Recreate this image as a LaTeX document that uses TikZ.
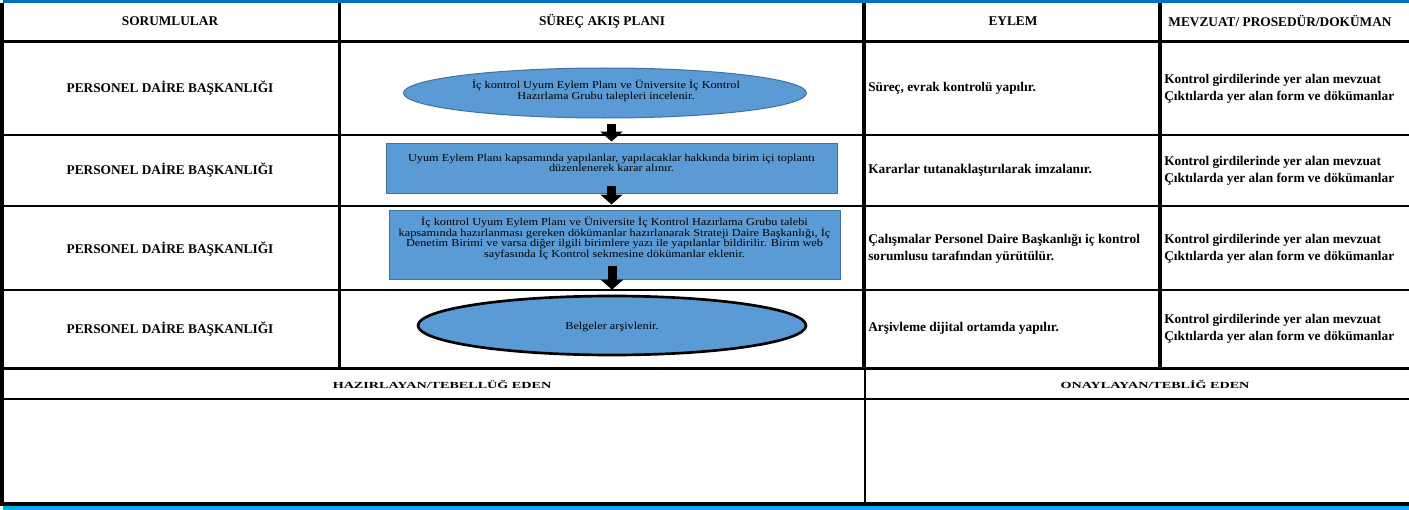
\documentclass[tikz,border=0pt]{standalone}
\usepackage{fontspec}
\usepackage{graphicx}
\setmainfont{Liberation Serif}
\usetikzlibrary{shapes.geometric,arrows.meta}
\definecolor{flowblue}{HTML}{5B9BD5}
\definecolor{flowedge}{HTML}{41719C}
\definecolor{topblue}{HTML}{0070C0}
\definecolor{bandcyan}{HTML}{00B0F0}
\newcommand{\flowfont}{\fontsize{9.2}{7.9}\selectfont\lineskiplimit -20pt\relax}
\newcommand{\sq}[1]{\scalebox{1}[0.86]{#1}}
\begin{document}
\begin{tikzpicture}[x=0.75pt,y=-0.75pt,
  hdr/.style={font=\fontsize{10}{12}\selectfont\bfseries, inner sep=0pt},
  foot/.style={font=\fontsize{10.6}{12}\selectfont\bfseries, inner sep=0pt},
  acttxt/.style={font=\fontsize{10}{12.6}\selectfont\bfseries, inner sep=0pt, anchor=west, align=left},
  flowtxt/.style={font=\flowfont, inner sep=0pt, align=center},
  flowell/.style={ellipse, fill=flowblue, draw=flowedge, line width=0.75pt, inner sep=0pt},
  flowrect/.style={rectangle, fill=flowblue, draw=flowedge, line width=0.75pt, inner sep=0pt},
  blockarrow/.style={draw=black, line width=6.75pt, -{Triangle[width=16.5pt,length=7.5pt]}},
  gridthin/.style={line width=1.1pt},
]
\useasboundingbox (0,0) rectangle (1409,510);
\fill[white] (0,0) rectangle (1409,510);
% frame and grid
\fill[topblue] (3,0) rectangle (1409,2.8);
\fill[black] (0,3) rectangle (3.5,505.5);
\fill[black] (0,40) rectangle (1409,43);
\fill[black] (0,366.5) rectangle (1409,369.5);
\fill[black] (0,501.5) rectangle (1409,505.5);
\fill[bandcyan] (3,505.5) rectangle (1409,510);
\draw[gridthin] (0,135) -- (1409,135);
\draw[gridthin] (0,206) -- (1409,206);
\draw[gridthin] (0,290) -- (1409,290);
\fill[black] (338,3) rectangle (341,368);
\fill[black] (862,3) rectangle (866,368);
\fill[black] (1158,3) rectangle (1162,368);
\draw[line width=1.5pt] (0,399) -- (1409,399);
\draw[gridthin] (865,368) -- (865,502);
% headers
\node[hdr] (h1) at (170,21) {SORUMLULAR};
\node[hdr] (h2) at (602,21) {SÜREÇ AKIŞ PLANI};
\node[hdr] (h3) at (1013,21) {EYLEM};
\node[hdr] (h4) at (1280,21) {MEVZUAT/ PROSEDÜR/DOKÜMAN};
% left column
\node[hdr] (s1) at (170,88) {PERSONEL DAİRE BAŞKANLIĞI};
\node[hdr] (s2) at (170,170) {PERSONEL DAİRE BAŞKANLIĞI};
\node[hdr] (s3) at (170,249) {PERSONEL DAİRE BAŞKANLIĞI};
\node[hdr] (s4) at (170,329) {PERSONEL DAİRE BAŞKANLIĞI};
% eylem column
\node[acttxt] (a1) at (868,88) {Süreç, evrak kontrolü yapılır.};
\node[acttxt] (a2) at (868,170) {Kararlar tutanaklaştırılarak imzalanır.};
\node[acttxt] (a3) at (868,248.5) {Çalışmalar Personel Daire Başkanlığı iç kontrol\\sorumlusu tarafından yürütülür.};
\node[acttxt] (a4) at (868,328) {Arşivleme dijital ortamda yapılır.};
% mevzuat column
\node[acttxt] (m1) at (1164,89) {Kontrol girdilerinde yer alan mevzuat\\Çıktılarda yer alan form ve dökümanlar};
\node[acttxt] (m2) at (1164,171) {Kontrol girdilerinde yer alan mevzuat\\Çıktılarda yer alan form ve dökümanlar};
\node[acttxt] (m3) at (1164,248.5) {Kontrol girdilerinde yer alan mevzuat\\Çıktılarda yer alan form ve dökümanlar};
\node[acttxt] (m4) at (1164,329) {Kontrol girdilerinde yer alan mevzuat\\Çıktılarda yer alan form ve dökümanlar};
% footer
\node[foot] (f1) at (442,384) {\scalebox{1}[0.66]{HAZIRLAYAN/TEBELLÜĞ EDEN}};
\node[foot] (f2) at (1155,384) {\scalebox{1}[0.66]{ONAYLAYAN/TEBLİĞ EDEN}};
% flow shapes
\node[flowell, minimum width=302.25pt, minimum height=37.5pt] (e1) at (605,93) {};
\node[flowtxt] (e1t) at (606,91) {\sq{İç kontrol Uyum Eylem Planı ve Üniversite İç Kontrol}\\\sq{Hazırlama Grubu talepleri incelenir.}};
\node[flowrect, minimum width=338.25pt, minimum height=37.5pt] (r2) at (611.5,168) {};
\node[flowtxt] (r2t) at (611.5,163) {\sq{Uyum Eylem Planı kapsamında yapılanlar, yapılacaklar hakkında birim içi toplantı}\\\sq{düzenlenerek karar alınır.}};
\node[flowrect, minimum width=338.25pt, minimum height=51.75pt] (r3) at (614.5,244.5) {};
\node[flowtxt] (r3t) at (614.5,238.5) {\sq{İç kontrol Uyum Eylem Planı ve Üniversite İç Kontrol Hazırlama Grubu talebi}\\\sq{kapsamında hazırlanması gereken dökümanlar hazırlanarak Strateji Daire Başkanlığı, İç}\\\sq{Denetim Birimi ve varsa diğer ilgili birimlere yazı ile yapılanlar bildirilir. Birim web}\\\sq{sayfasında İç Kontrol sekmesine dökümanlar eklenir.}};
\node[ellipse, fill=flowblue, draw=black, line width=2pt, minimum width=291pt, minimum height=44.25pt, inner sep=0pt] (e4) at (612,325.5) {};
\node[flowtxt] (e4t) at (612,327) {\sq{Belgeler arşivlenir.}};
% arrows
\draw[blockarrow, shorten <=3.75pt, shorten >=0.75pt] (e1.south -| r2.north) -- (r2.north);
\draw[blockarrow, shorten <=-6pt, shorten >=3.75pt] (r2.south) -- (r3.north -| r2.south);
\draw[blockarrow, shorten <=-10.5pt, shorten >=3.75pt] (r3.south -| e4.north) -- (e4.north);
\end{tikzpicture}
\end{document}
